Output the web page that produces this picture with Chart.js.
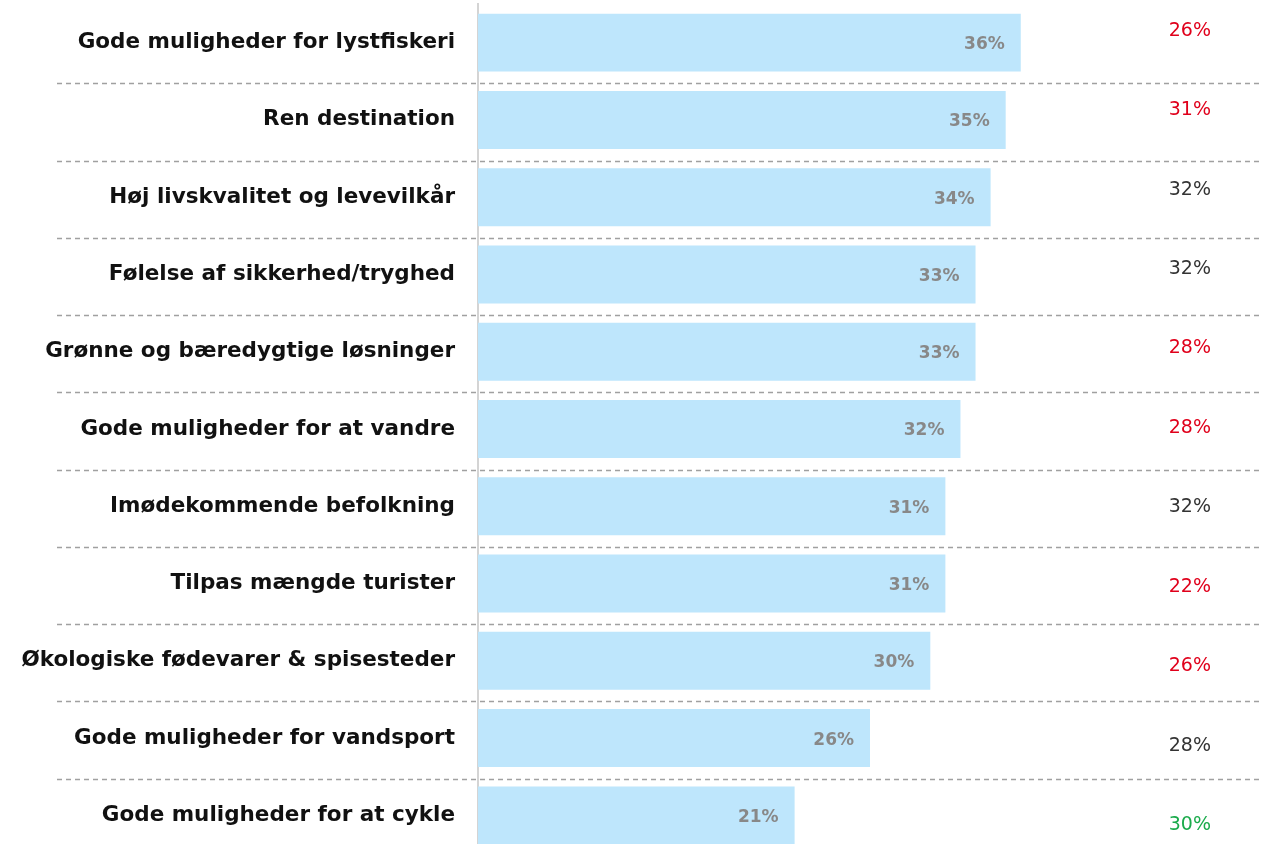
<!DOCTYPE html>
<html>
<head>
<meta charset="utf-8">
<script src="https://cdn.jsdelivr.net/npm/chart.js@4"></script>
<style>
  html, body { margin: 0; padding: 0; background: #fff; overflow: hidden; }
  canvas { display: block; }
</style>
</head>
<body>
<canvas id="chart" width="1274" height="858"></canvas>
<script>
// Chart data
const categories = [
  "Gode muligheder for lystfiskeri",
  "Ren destination",
  "Høj livskvalitet og levevilkår",
  "Følelse af sikkerhed/tryghed",
  "Grønne og bæredygtige løsninger",
  "Gode muligheder for at vandre",
  "Imødekommende befolkning",
  "Tilpas mængde turister",
  "Økologiske fødevarer & spisesteder",
  "Gode muligheder for vandsport",
  "Gode muligheder for at cykle"
];
const shares = [36, 35, 34, 33, 33, 32, 31, 31, 30, 26, 21];
const compareShares = [26, 31, 32, 32, 28, 28, 32, 22, 26, 28, 30];
const compareColors = ["#e0001b", "#e0001b", "#333333", "#333333", "#e0001b", "#e0001b",
  "#333333", "#e0001b", "#e0001b", "#333333", "#1aab4b"];

const FONT = "'DejaVu Sans', sans-serif";

// Dashed row separators, value labels and the right-hand column
const extrasPlugin = {
  id: "extras",
  afterDatasetsDraw(chart) {
    const ctx = chart.ctx;
    const y = chart.scales.y;
    const area = chart.chartArea;
    const meta = chart.getDatasetMeta(0);

    ctx.save();
    // separators
    ctx.strokeStyle = "#a0a0a0";
    ctx.lineWidth = 1.5;
    ctx.setLineDash([5, 4]);
    for (let i = 0; i < categories.length - 1; i++) {
      const yy = Math.round((y.getPixelForValue(i) + y.getPixelForValue(i + 1)) / 2) + 2.5;
      ctx.beginPath();
      ctx.moveTo(57, yy);
      ctx.lineTo(area.right, yy);
      ctx.stroke();
    }
    ctx.setLineDash([]);

    // values inside bars
    ctx.font = "bold 17px " + FONT;
    ctx.fillStyle = "#888888";
    ctx.textAlign = "right";
    ctx.textBaseline = "middle";
    meta.data.forEach((bar, i) => {
      ctx.fillText(shares[i] + "%", bar.x - 16, bar.y + 2);
    });

    // comparison column
    ctx.font = "19px " + FONT;
    compareShares.forEach((v, i) => {
      ctx.fillStyle = compareColors[i];
      const yy = y.getPixelForValue(i) + (i - 5) * 2.2 - 1;
      ctx.fillText(v + "%", area.right - 51, yy);
    });
    ctx.restore();
  }
};

new Chart(document.getElementById("chart"), {
  type: "bar",
  data: {
    labels: categories,
    datasets: [{
      data: shares,
      backgroundColor: "#bee6fc",
      borderWidth: 0,
      barPercentage: 0.75,
      categoryPercentage: 1
    }]
  },
  options: {
    indexAxis: "y",
    responsive: false,
    animation: false,
    layout: { padding: { top: 4, bottom: 4, right: 12, left: 0 } },
    plugins: {
      legend: { display: false },
      tooltip: { enabled: false }
    },
    scales: {
      x: {
        display: false,
        min: 0,
        max: 52
      },
      y: {
        afterFit(scale) {
          scale.width = 478;
          scale.paddingTop = 0;
          scale.paddingBottom = 0;
        },
        grid: { display: false, drawTicks: false },
        border: { display: true, color: "#d4d4d4", width: 2 },
        ticks: {
          color: "#111111",
          padding: 23,
          autoSkip: false,
          font: { family: FONT, size: 21.5, weight: "bold" }
        }
      }
    }
  },
  plugins: [extrasPlugin]
});
</script>
</body>
</html>
